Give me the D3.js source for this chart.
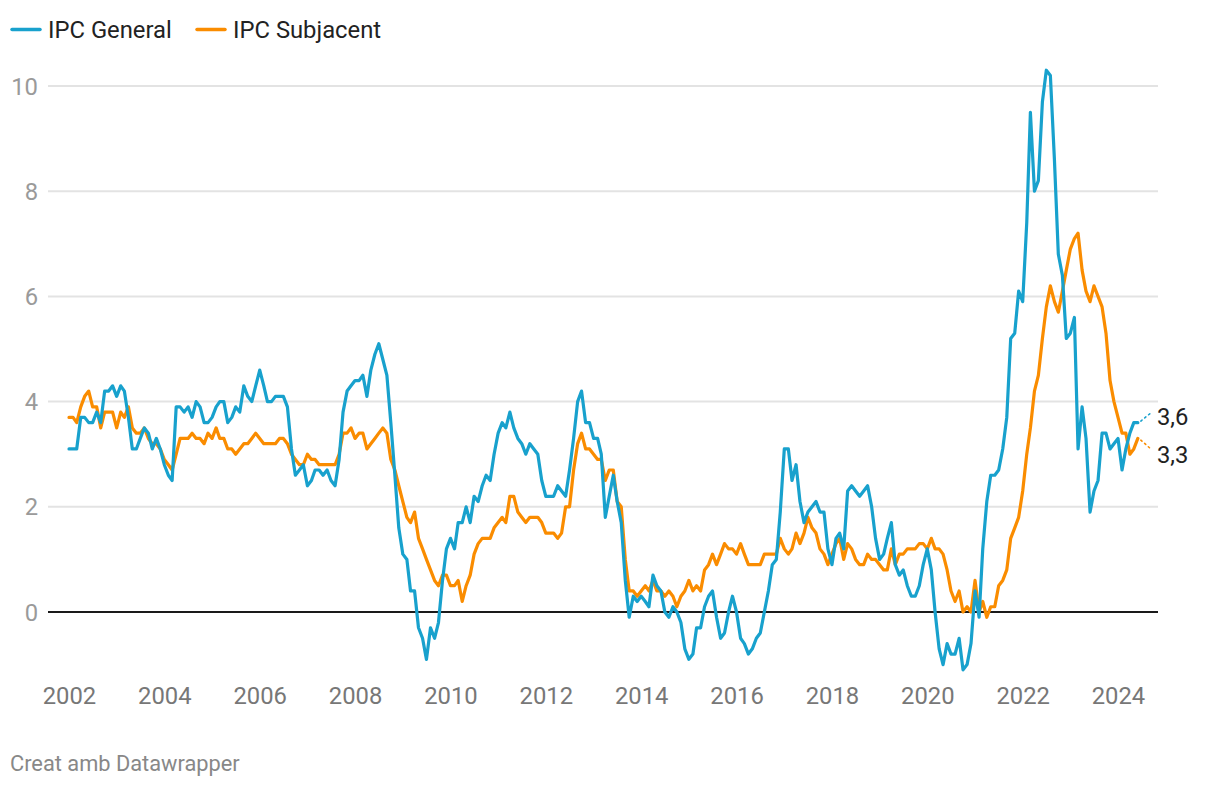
<!DOCTYPE html>
<html>
<head>
<meta charset="utf-8">
<script src="https://cdn.jsdelivr.net/npm/d3@7"></script>
<style>
  html, body { margin: 0; padding: 0; background: #fff; }
  svg { display: block; font-family: Roboto, "Noto Sans", sans-serif; }
</style>
</head>
<body>
<svg id="chart" width="1220" height="786"></svg>
<script>
// ---- Data (monthly, Jan 2002 .. Jun 2024) ----
const startYear = 2002;
const seriesNames = ["IPC General", "IPC Subjacent"];
const seriesColors = ["#18a1cd", "#fa8c00"];

const ipcGeneral = [
  3.1,3.1,3.1,3.7,3.7,3.6,3.6,3.8,3.6,4.2,4.2,4.3,
  4.1,4.3,4.2,3.7,3.1,3.1,3.3,3.5,3.4,3.1,3.3,3.1,
  2.8,2.6,2.5,3.9,3.9,3.8,3.9,3.7,4.0,3.9,3.6,3.6,
  3.7,3.9,4.0,4.0,3.6,3.7,3.9,3.8,4.3,4.1,4.0,4.3,
  4.6,4.3,4.0,4.0,4.1,4.1,4.1,3.9,3.1,2.6,2.7,2.8,
  2.4,2.5,2.7,2.7,2.6,2.7,2.5,2.4,2.9,3.8,4.2,4.3,
  4.4,4.4,4.5,4.1,4.6,4.9,5.1,4.8,4.5,3.6,2.6,1.6,
  1.1,1.0,0.4,0.4,-0.3,-0.5,-0.9,-0.3,-0.5,-0.2,0.6,1.2,
  1.4,1.2,1.7,1.7,2.0,1.7,2.2,2.1,2.4,2.6,2.5,3.0,
  3.4,3.6,3.5,3.8,3.5,3.3,3.2,3.0,3.2,3.1,3.0,2.5,
  2.2,2.2,2.2,2.4,2.3,2.2,2.7,3.3,4.0,4.2,3.6,3.6,
  3.3,3.3,3.0,1.8,2.2,2.6,2.1,1.7,0.6,-0.1,0.3,0.2,
  0.3,0.2,0.1,0.7,0.5,0.4,0.0,-0.1,0.1,0.0,-0.2,-0.7,
  -0.9,-0.8,-0.3,-0.3,0.1,0.3,0.4,-0.1,-0.5,-0.4,0.0,0.3,
  0.0,-0.5,-0.6,-0.8,-0.7,-0.5,-0.4,0.0,0.4,0.9,1.0,1.9,
  3.1,3.1,2.5,2.8,2.1,1.7,1.9,2.0,2.1,1.9,1.9,1.2,
  0.9,1.4,1.5,1.2,2.3,2.4,2.3,2.2,2.3,2.4,2.0,1.4,
  1.0,1.1,1.4,1.7,0.9,0.7,0.8,0.5,0.3,0.3,0.5,0.9,
  1.2,0.8,0.0,-0.7,-1.0,-0.6,-0.8,-0.8,-0.5,-1.1,-1.0,-0.6,
  0.4,-0.1,1.2,2.1,2.6,2.6,2.7,3.1,3.7,5.2,5.3,6.1,
  5.9,7.4,9.5,8.0,8.2,9.7,10.3,10.2,8.6,6.8,6.4,5.2,
  5.3,5.6,3.1,3.9,3.3,1.9,2.3,2.5,3.4,3.4,3.1,3.2,
  3.3,2.7,3.1,3.4,3.6,3.6
];

const ipcSubjacent = [
  3.7,3.7,3.6,3.9,4.1,4.2,3.9,3.9,3.5,3.8,3.8,3.8,
  3.5,3.8,3.7,3.9,3.5,3.4,3.4,3.5,3.3,3.2,3.2,3.1,
  2.9,2.8,2.7,3.0,3.3,3.3,3.3,3.4,3.3,3.3,3.2,3.4,
  3.3,3.5,3.3,3.3,3.1,3.1,3.0,3.1,3.2,3.2,3.3,3.4,
  3.3,3.2,3.2,3.2,3.2,3.3,3.3,3.2,3.0,2.9,2.8,2.8,
  3.0,2.9,2.9,2.8,2.8,2.8,2.8,2.8,3.0,3.4,3.4,3.5,
  3.3,3.4,3.4,3.1,3.2,3.3,3.4,3.5,3.4,2.9,2.7,2.4,
  2.1,1.8,1.7,1.9,1.4,1.2,1.0,0.8,0.6,0.5,0.7,0.7,
  0.5,0.5,0.6,0.2,0.5,0.7,1.1,1.3,1.4,1.4,1.4,1.6,
  1.7,1.8,1.7,2.2,2.2,1.9,1.8,1.7,1.8,1.8,1.8,1.7,
  1.5,1.5,1.5,1.4,1.5,2.0,2.0,2.7,3.2,3.4,3.1,3.1,
  3.0,2.9,2.9,2.5,2.7,2.7,2.1,2.0,1.0,0.4,0.4,0.3,
  0.4,0.5,0.4,0.6,0.4,0.4,0.3,0.4,0.3,0.1,0.3,0.4,
  0.6,0.4,0.5,0.4,0.8,0.9,1.1,0.9,1.1,1.3,1.2,1.2,
  1.1,1.3,1.1,0.9,0.9,0.9,0.9,1.1,1.1,1.1,1.1,1.4,
  1.2,1.1,1.2,1.5,1.3,1.5,1.8,1.6,1.5,1.2,1.1,0.9,
  1.1,1.3,1.4,1.0,1.3,1.2,1.0,0.9,0.9,1.1,1.0,1.0,
  0.9,0.8,0.8,1.2,0.9,1.1,1.1,1.2,1.2,1.2,1.3,1.3,
  1.2,1.4,1.2,1.2,1.1,0.8,0.4,0.2,0.4,0.0,0.1,0.0,
  0.6,0.0,0.2,-0.1,0.1,0.1,0.5,0.6,0.8,1.4,1.6,1.8,
  2.3,3.0,3.5,4.2,4.5,5.2,5.8,6.2,5.9,5.7,6.1,6.5,
  6.9,7.1,7.2,6.5,6.1,5.9,6.2,6.0,5.8,5.3,4.4,4.0,
  3.7,3.4,3.4,3.0,3.1,3.3
];

const yTicks = [0, 2, 4, 6, 8, 10];
const xTickYears = [2002, 2004, 2006, 2008, 2010, 2012, 2014, 2016, 2018, 2020, 2022, 2024];
const footerText = "Creat amb Datawrapper";

// ---- Layout ----
const svg = d3.select("#chart");
const plotLeft = 48, plotRight = 1158;
const fontMain = 23.8;

const x = d3.scaleTime()
  .domain([new Date(2002, 0, 1), new Date(2024, 0, 1)])
  .range([69, 1118]);
const y = d3.scaleLinear().domain([0, 10]).range([612, 86]);

const monthDate = i => new Date(startYear, i, 1);

// gridlines
svg.append("g").selectAll("line")
  .data(yTicks.filter(d => d !== 0))
  .join("line")
  .attr("x1", plotLeft).attr("x2", plotRight)
  .attr("y1", d => y(d)).attr("y2", d => y(d))
  .attr("stroke", "#e3e3e3").attr("stroke-width", 2);

// y tick labels
svg.append("g").selectAll("text")
  .data(yTicks)
  .join("text")
  .attr("x", 38)
  .attr("y", d => y(d))
  .attr("dy", "0.36em")
  .attr("text-anchor", "end")
  .attr("fill", "#9a9a9a")
  .attr("font-size", fontMain)
  .text(d => d);

// x axis labels (via d3 axis)
const xAxis = d3.axisBottom(x)
  .tickValues(xTickYears.map(yr => new Date(yr, 0, 1)))
  .tickFormat(d3.timeFormat("%Y"))
  .tickSize(0)
  .tickPadding(0);
const gx = svg.append("g").attr("transform", "translate(0,686.5)").call(xAxis);
gx.select(".domain").remove();
gx.selectAll("text")
  .attr("font-family", "Roboto, 'Noto Sans', sans-serif")
  .attr("font-size", fontMain)
  .attr("fill", "#777")
  .attr("dy", "0.75em");

// zero line
svg.append("line")
  .attr("x1", plotLeft).attr("x2", plotRight)
  .attr("y1", y(0)).attr("y2", y(0))
  .attr("stroke", "#1a1a1a").attr("stroke-width", 2);

// lines
const line = d3.line()
  .x((d, i) => x(monthDate(i)))
  .y(d => y(d));

const allSeries = [ipcGeneral, ipcSubjacent];
[1, 0].forEach(k => {
  svg.append("path")
    .datum(allSeries[k])
    .attr("d", line)
    .attr("fill", "none")
    .attr("stroke", seriesColors[k])
    .attr("stroke-width", 3.2)
    .attr("stroke-linejoin", "round")
    .attr("stroke-linecap", "round");
});

// end labels with dotted connectors
const fmt = v => d3.format(".1f")(v).replace(".", ",");
const labelYs = [416, 454];
allSeries.forEach((s, k) => {
  const lastI = s.length - 1;
  const lx = x(monthDate(lastI)), ly = y(s[lastI]);
  svg.append("line")
    .attr("x1", lx + 3).attr("y1", ly + (labelYs[k] - 4 - ly) * 0.15)
    .attr("x2", 1152).attr("y2", labelYs[k] - 4)
    .attr("stroke", seriesColors[k])
    .attr("stroke-width", 1.6)
    .attr("stroke-dasharray", "1.5,3.5")
    .attr("stroke-linecap", "round");
  svg.append("text")
    .attr("x", 1157)
    .attr("y", labelYs[k])
    .attr("dy", "0.36em")
    .attr("fill", "#222")
    .attr("font-size", fontMain)
    .text(fmt(s[lastI]));
});

// legend
const legend = svg.append("g");
const legendItems = [
  { name: seriesNames[0], color: seriesColors[0], x: 11 },
  { name: seriesNames[1], color: seriesColors[1], x: 196 }
];
legendItems.forEach(it => {
  legend.append("line")
    .attr("x1", it.x + 1).attr("x2", it.x + 29)
    .attr("y1", 29.5).attr("y2", 29.5)
    .attr("stroke", it.color).attr("stroke-width", 3.5)
    .attr("stroke-linecap", "round");
  legend.append("text")
    .attr("x", it.x + 37).attr("y", 37.5)
    .attr("fill", "#222")
    .attr("font-size", fontMain)
    .text(it.name);
});

// footer
svg.append("text")
  .attr("x", 10).attr("y", 770.5)
  .attr("fill", "#888")
  .attr("font-size", 21.8)
  .text(footerText);
</script>
</body>
</html>
